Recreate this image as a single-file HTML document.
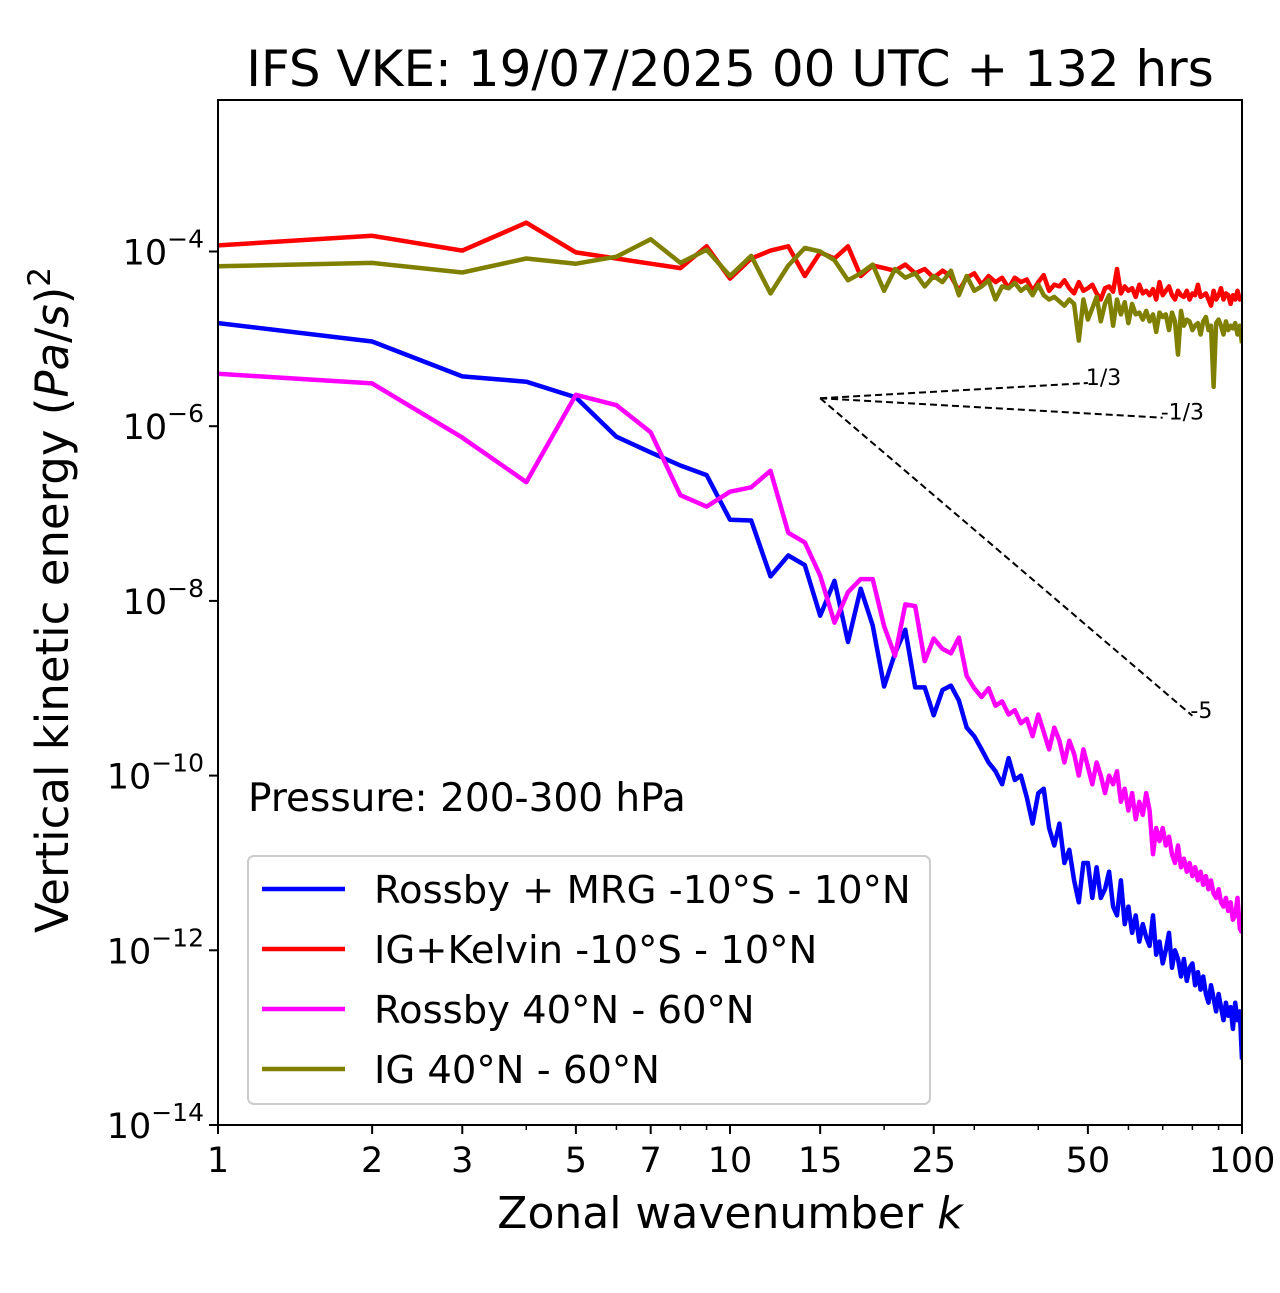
<!DOCTYPE html>
<html><head><meta charset="utf-8"><style>
body{margin:0;background:#fff;}
svg text{font-family:"DejaVu Sans","Liberation Sans",sans-serif;}
</style></head><body>
<svg id="chart" width="1280" height="1288" xmlns="http://www.w3.org/2000/svg"></svg>
<script>
const wavenumbers = Array.from({length:100},(_,i)=>i+1);
const rossbyMrgLog = [-4.82,-5.03,-5.43,-5.49,-5.67,-6.12,-6.30,-6.45,-6.56,-7.07,-7.08,-7.72,-7.48,-7.59,-8.17,-7.77,-8.47,-7.86,-8.28,-8.98,-8.60,-8.33,-8.99,-8.99,-9.31,-9.02,-8.97,-9.14,-9.45,-9.55,-9.7,-9.85,-9.95,-10.1,-9.8,-10.05,-10.0,-10.25,-10.55,-10.2,-10.15,-10.6,-10.8,-10.55,-11.0,-10.85,-11.2,-11.45,-11.0,-11.0,-11.4,-11.05,-11.4,-11.3,-11.1,-11.5,-11.6,-11.2,-11.7,-11.5,-11.8,-11.6,-11.9,-11.7,-11.85,-11.95,-11.6,-12.05,-11.9,-12.15,-12.0,-11.8,-12.2,-12.0,-12.1,-12.3,-12.1,-12.35,-12.2,-12.15,-12.4,-12.25,-12.45,-12.3,-12.5,-12.6,-12.4,-12.55,-12.7,-12.5,-12.65,-12.8,-12.6,-12.75,-12.65,-12.9,-12.6,-12.8,-12.7,-13.25];
const igKelvinLog = [-3.93,-3.82,-3.99,-3.67,-4.01,-4.08,-4.14,-4.19,-3.94,-4.31,-4.08,-3.99,-3.94,-4.28,-4.01,-4.08,-3.94,-4.28,-4.16,-4.19,-4.22,-4.15,-4.25,-4.2,-4.3,-4.22,-4.28,-4.45,-4.3,-4.25,-4.38,-4.28,-4.35,-4.3,-4.42,-4.3,-4.35,-4.32,-4.45,-4.35,-4.27,-4.45,-4.38,-4.4,-4.33,-4.42,-4.48,-4.35,-4.45,-4.42,-4.38,-4.48,-4.55,-4.42,-4.4,-4.46,-4.2,-4.48,-4.4,-4.45,-4.42,-4.52,-4.38,-4.48,-4.45,-4.5,-4.43,-4.55,-4.35,-4.5,-4.45,-4.4,-4.5,-4.55,-4.45,-4.5,-4.52,-4.45,-4.55,-4.48,-4.5,-4.38,-4.52,-4.5,-4.48,-4.55,-4.62,-4.45,-4.55,-4.5,-4.42,-4.55,-4.48,-4.5,-4.6,-4.5,-4.55,-4.45,-4.55,-4.52];
const rossbyMidLog = [-5.40,-5.51,-6.13,-6.64,-5.64,-5.76,-6.07,-6.79,-6.92,-6.75,-6.70,-6.51,-7.22,-7.33,-7.71,-8.25,-7.90,-7.75,-7.75,-8.29,-8.63,-8.04,-8.06,-8.69,-8.43,-8.55,-8.60,-8.42,-8.86,-9.0,-9.1,-9.0,-9.2,-9.15,-9.3,-9.25,-9.4,-9.35,-9.55,-9.3,-9.5,-9.7,-9.45,-9.6,-9.85,-9.6,-9.75,-10.0,-9.7,-9.9,-10.1,-9.85,-10.0,-10.2,-10.0,-10.1,-9.95,-10.3,-10.15,-10.4,-10.2,-10.5,-10.3,-10.45,-10.2,-10.4,-10.9,-10.6,-10.75,-10.6,-10.8,-10.7,-10.9,-11.0,-10.8,-11.05,-10.95,-11.1,-11.0,-11.15,-11.05,-11.2,-11.1,-11.25,-11.15,-11.3,-11.2,-11.35,-11.4,-11.3,-11.45,-11.5,-11.4,-11.55,-11.45,-11.65,-11.6,-11.4,-11.75,-11.8];
const igMidLog = [-4.17,-4.13,-4.24,-4.08,-4.14,-4.06,-3.86,-4.13,-3.98,-4.28,-4.05,-4.48,-4.16,-3.96,-4.0,-4.1,-4.33,-4.25,-4.15,-4.45,-4.2,-4.3,-4.25,-4.4,-4.28,-4.35,-4.22,-4.5,-4.28,-4.45,-4.4,-4.33,-4.55,-4.4,-4.42,-4.36,-4.45,-4.4,-4.5,-4.38,-4.5,-4.55,-4.52,-4.57,-4.62,-4.55,-4.6,-5.02,-4.55,-4.78,-4.65,-4.52,-4.8,-4.6,-4.5,-4.85,-4.55,-4.72,-4.58,-4.82,-4.6,-4.72,-4.7,-4.78,-4.68,-4.8,-4.72,-4.92,-4.7,-4.75,-4.72,-4.9,-4.7,-4.8,-5.18,-4.68,-4.85,-4.78,-4.8,-4.9,-4.85,-4.82,-4.95,-4.8,-4.75,-4.9,-4.85,-5.55,-4.82,-4.78,-4.85,-4.95,-4.8,-4.9,-4.85,-4.88,-4.82,-4.95,-4.85,-5.05];
const xTickVals = [1,2,3,5,7,10,15,25,50,100];
const xMinorVals = [4,6,8,9,20,30,40,60,70,80,90];
const yTickExps = [-4,-6,-8,-10,-12,-14];
const slopes = [1/3,-1/3,-5];
const slopeEnds = [50,70,80];
const slopeLabels = ['1/3','-1/3','-5'];

const L=218,R=1242,T=100,B=1125;
const yMin=-14, yMax=-14+(B-T)/87.35;
const xs=k=>L+(Math.log10(k))/2*(R-L);
const ys=lg=>B-(lg-yMin)/(yMax-yMin)*(B-T);
const svg=document.getElementById('chart');
const NS='http://www.w3.org/2000/svg';
function mk(tag,attrs,parent){const e=document.createElementNS(NS,tag);for(const k in attrs)e.setAttribute(k,attrs[k]);(parent||svg).appendChild(e);return e;}

const title=mk('text',{x:730,y:86,'font-size':50,'text-anchor':'middle'});
title.textContent='IFS VKE: 19/07/2025 00 UTC + 132 hrs';



const clip=mk('clipPath',{id:'pc'});mk('rect',{x:L,y:T,width:R-L,height:B-T},clip);
const seriesDefs=[[rossbyMrgLog,'#0000ff','series-rossby-mrg'],[igKelvinLog,'#ff0000','series-ig-kelvin'],[rossbyMidLog,'#ff00ff','series-rossby-midlat'],[igMidLog,'#808000','series-ig-midlat']];
for(const [arr,col,name] of seriesDefs){
  const d=arr.map((v,i)=>(i?'L':'M')+xs(wavenumbers[i]).toFixed(1)+','+ys(v).toFixed(1)).join('');
  const p=mk('path',{d:d,fill:'none',stroke:col,'stroke-width':4.5,'stroke-linejoin':'round','clip-path':'url(#pc)'});
  
  
}
const k0=15,y0=-5.68;
slopes.forEach((s,i)=>{
  const k1=slopeEnds[i],y1=y0+s*Math.log10(k1/k0);
  const l=mk('line',{x1:xs(k0),y1:ys(y0),x2:xs(k1),y2:ys(y1),stroke:'#000','stroke-width':2,'stroke-dasharray':'7,4'});
  
  
  const t=mk('text',{x:xs(k1)-2,y:ys(y1)+2,'font-size':22});
  t.textContent=slopeLabels[i];
  
  
});
const fr=mk('rect',{x:L,y:T,width:R-L,height:B-T,fill:'none',stroke:'#000','stroke-width':2});


xTickVals.forEach(v=>{
  mk('line',{x1:xs(v),x2:xs(v),y1:B,y2:B+9,stroke:'#000','stroke-width':2});
  const t=mk('text',{x:xs(v),y:B+47,'font-size':35,'text-anchor':'middle'});t.textContent=v;
  
  
});
xMinorVals.forEach(v=>mk('line',{x1:xs(v),x2:xs(v),y1:B,y2:B+5,stroke:'#000','stroke-width':1.5}));
yTickExps.forEach(e=>{
  mk('line',{x1:L-9,x2:L,y1:ys(e),y2:ys(e),stroke:'#000','stroke-width':2});
  const t=mk('text',{x:L-14,y:ys(e)+13,'font-size':35,'text-anchor':'end'});
  t.appendChild(document.createTextNode('10'));
  const sp=mk('tspan',{dy:-17,'font-size':25},t);sp.textContent='\u2212'+(-e);
  
  
});
const xl=mk('text',{x:730,y:1228,'font-size':44,'text-anchor':'middle'});
xl.innerHTML='Zonal wavenumber <tspan font-style="italic">k</tspan>';


const yl=mk('text',{x:0,y:0,'font-size':45,'text-anchor':'middle',transform:'translate(68,600) rotate(-90)'});
yl.innerHTML='Vertical kinetic energy (<tspan font-style="italic">Pa</tspan>/<tspan font-style="italic">s</tspan>)<tspan dy="-18" font-size="31">2</tspan>';


const pr=mk('text',{x:248,y:811,'font-size':39});pr.textContent='Pressure: 200-300 hPa';


const lg=mk('rect',{x:248,y:856,width:682,height:248,rx:6,fill:'#fff','fill-opacity':0.85,stroke:'#ccc','stroke-width':2});


const legLabels=['Rossby + MRG -10°S - 10°N','IG+Kelvin -10°S - 10°N','Rossby 40°N - 60°N','IG 40°N - 60°N'];
seriesDefs.forEach((s,i)=>{
  const y=889+60*i;
  mk('line',{x1:262,x2:345,y1:y,y2:y,stroke:s[1],'stroke-width':4.5});
  const t=mk('text',{x:374,y:y+14,'font-size':38.5});t.textContent=legLabels[i];
  
  
});
</script>
</body></html>
